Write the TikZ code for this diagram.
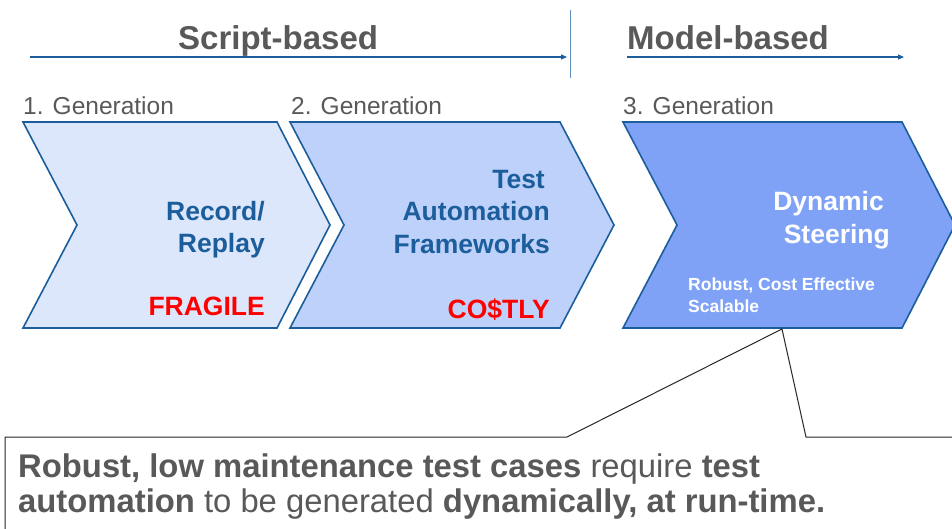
\documentclass[tikz,border=0pt]{standalone}
\usepackage{fontspec}
\setmainfont{Liberation Sans}
\usetikzlibrary{arrows.meta}
\definecolor{grayT}{HTML}{595959}
\definecolor{blueT}{HTML}{1B5E9B}
\definecolor{fillA}{HTML}{DCE7FC}
\definecolor{fillB}{HTML}{BED1FA}
\definecolor{fillC}{HTML}{7FA2F7}
\definecolor{redT}{HTML}{FF0000}
\tikzset{
  chev/.style={draw=blueT, line width=1.6pt, line join=miter},
  hdr/.style={font=\fontsize{33}{36}\selectfont\bfseries, text=grayT, inner sep=0pt, anchor=base west},
  gen/.style={font=\fontsize{24.5}{28}\selectfont, text=grayT, inner sep=0pt, anchor=base west},
  lbl/.style={font=\fontsize{26.5}{33}\selectfont\bfseries, inner sep=0pt, anchor=base east},
  small/.style={font=\fontsize{17.5}{22}\selectfont\bfseries, text=white, inner sep=0pt, anchor=base west},
  tl/.style={draw=blueT, line width=1.2pt, -{Triangle[length=6pt,width=5pt]}},
  note/.style={font=\fontsize{32.8}{36}\selectfont, text=grayT, inner sep=0pt, anchor=base west}
}
\begin{document}
\begin{tikzpicture}[x=1pt,y=-1pt]
\useasboundingbox (0,0) rectangle (952,528);
\fill[white] (0,0) rectangle (952,528);
% header
\node[hdr] (sb) at (178,49) {Script-based};
\node[hdr] (mb) at (627,49) {Model-based};
\coordinate (a1s) at (30,57); \coordinate (a1e) at (567,57);
\coordinate (a2s) at (627,57); \coordinate (a2e) at (904,57);
\draw[tl] (a1s) -- (a1e);
\draw[tl] (a2s) -- (a2e);
\coordinate (dv1) at (570,10); \coordinate (dv2) at (570,78);
\draw[blueT!70, line width=0.8pt] (dv1) -- (dv2);
% generation labels
\node[gen] (g1) at (23,114) {1. Generation};
\node[gen] (g2) at (291,114) {2. Generation};
\node[gen] (g3) at (623,114) {3. Generation};
% chevrons
\draw[chev, fill=fillA] (23,122) -- (277,122) -- (330,225) -- (277,328) -- (23,328) -- (77,225) -- cycle;
\draw[chev, fill=fillB] (290,122) -- (560,122) -- (614,225) -- (560,328) -- (290,328) -- (344,225) -- cycle;
\draw[chev, fill=fillC] (623,122) -- (902,122) -- (955,225) -- (902,328) -- (623,328) -- (677,225) -- cycle;
% chevron 1 text
\node[lbl, text=blueT] (r1) at (265,220) {Record/};
\node[lbl, text=blueT] (r2) at (265,252) {Replay};
\node[lbl, text=redT] (fr) at (265,315) {FRAGILE};
% chevron 2 text
\node[lbl, text=blueT] (t1) at (545,188) {Test};
\node[lbl, text=blueT] (t2) at (550,220) {Automation};
\node[lbl, text=blueT] (t3) at (550,253) {Frameworks};
\node[lbl, text=redT] (co) at (550,318) {CO\$TLY};
% chevron 3 text
\node[lbl, text=white] (d1) at (884,210) {Dynamic};
\node[lbl, text=white] (d2) at (890,243) {Steering};
\node[small] (s1) at (688,290) {Robust, Cost Effective};
\node[small] (s2) at (688,312) {Scalable};
% callout
\coordinate (cv) at (782,329);
\coordinate (cl) at (567,437);
\coordinate (cr) at (806,437);
\coordinate (ctl) at (5,437);
\coordinate (cbl) at (5,540);
\coordinate (ctr) at (960,437);
\fill[white] (ctl) -- (cl) -- (cv) -- (cr) -- (ctr) -- (960,540) -- (cbl) -- cycle;
\draw[black!85, line width=1pt, line join=miter] (cbl) -- (ctl) -- (cl) -- (cv) -- (cr) -- (ctr);
\node[note] (n1) at (18,477) {\textbf{Robust, low maintenance test cases} require \textbf{test}};
\node[note] (n2) at (18,512) {\textbf{automation} to be generated \textbf{dynamically, at run-time.}};
\end{tikzpicture}
\end{document}
